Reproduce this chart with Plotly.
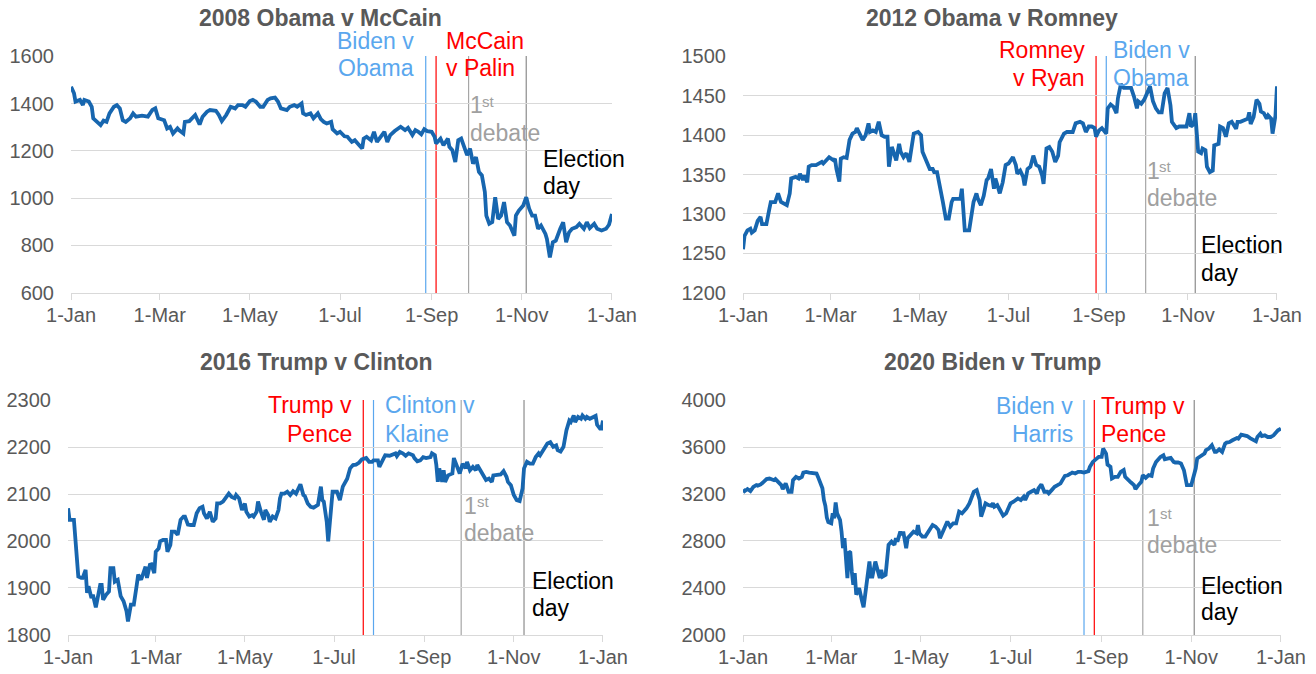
import plotly.graph_objects as go

W, H = 1316, 674
FONT = "Liberation Sans, Arial, sans-serif"

# ------------------------------------------------------------------ data
# S&P 500 level (dates as MM-DD within each year, last point = 1 Jan of next year)
md_2008 = ["01-01","01-03","01-04","01-07","01-09","01-10","01-13","01-15","01-16","01-19","01-21","01-23","01-25","01-27","01-30",
           "02-01","02-03","02-05","02-07","02-10","02-12","02-14","02-18","02-22","02-25","02-27","02-29",
           "03-04","03-06","03-08","03-10","03-13","03-14","03-17","03-18","03-21","03-23","03-25","03-28","03-30",
           "04-02","04-04","04-08","04-10","04-12","04-15","04-18","04-21","04-23","04-26","04-28",
           "05-01","05-03","05-05","05-08","05-10","05-13","05-15","05-18","05-20","05-22","05-26","05-28","05-31",
           "06-02","06-05","06-06","06-08","06-11","06-13","06-16","06-18","06-20","06-22","06-25","06-26","06-29",
           "07-01","07-04","07-06","07-09","07-11","07-14","07-16","07-17","07-19","07-22","07-24","07-26","07-29","07-31",
           "08-02","08-04","08-07","08-09","08-11","08-14","08-16","08-19","08-21","08-23","08-25","08-27","08-29",
           "09-01","09-03","09-04","09-07","09-09","09-12","09-13","09-15","09-17","09-19","09-21","09-24","09-25","09-27","09-29",
           "10-01","10-03","10-05","10-07","10-08","10-10","10-12","10-14","10-16","10-18","10-20","10-22","10-24","10-25","10-27","10-28","10-30",
           "11-02","11-04","11-06","11-08","11-10","11-12","11-14","11-17","11-18","11-20","11-22","11-24","11-27","11-29",
           "12-01","12-03","12-05","12-08","12-10","12-13","12-15","12-17","12-20","12-22","12-25","12-28","12-30"]
sp_2008 = [1472,1444,1409,1416,1394,1416,1409,1387,1338,1323,1309,1328,1323,1359,1387,
           1394,1380,1330,1323,1338,1359,1345,1349,1345,1373,1380,1338,
           1330,1295,1302,1274,1295,1288,1274,1323,1326,1338,1352,1312,1345,
           1366,1373,1370,1352,1326,1352,1387,1380,1394,1394,1387,
           1411,1416,1409,1387,1387,1416,1423,1426,1409,1380,1373,1387,1394,
           1387,1401,1359,1352,1359,1338,1359,1335,1323,1316,1323,1292,1274,
           1281,1262,1260,1238,1245,1224,1210,1252,1260,1245,1281,1238,1267,1281,
           1238,1267,1284,1295,1302,1288,1298,1267,1288,1281,1270,1292,1284,
           1281,1260,1231,1252,1224,1252,1217,1203,1153,1245,1252,1196,1182,1210,1146,
           1174,1111,1096,1026,926,891,898,1004,912,926,983,898,884,870,841,926,947,
           969,1004,955,926,926,870,884,848,827,749,813,820,870,898,
           813,855,870,877,891,870,898,873,891,870,863,870,887,
           933]

md_2012 = ["01-01","01-02","01-04","01-06","01-07","01-09","01-11","01-13","01-14","01-17","01-19","01-20","01-23","01-25","01-27","01-29","01-31",
           "02-02","02-03","02-06","02-08","02-09","02-11","02-12","02-14","02-15","02-17","02-20","02-22","02-24","02-25","02-27","02-29",
           "03-03","03-04","03-05","03-07","03-08","03-10","03-12","03-14","03-16","03-18","03-19","03-21","03-23","03-25","03-27","03-28","03-30",
           "04-01","04-03","04-05","04-07","04-09","04-10","04-12","04-13","04-15","04-17","04-18","04-20","04-22","04-24","04-26","04-27","04-30",
           "05-02","05-03","05-06","05-08","05-10","05-11","05-13","05-15","05-16","05-17","05-19","05-21","05-23","05-24","05-27","05-29","05-30","05-31",
           "06-01","06-04","06-05","06-07","06-09","06-10","06-12","06-14","06-16","06-17","06-19","06-21","06-22","06-24","06-25","06-27","06-29",
           "07-01","07-04","07-06","07-07","07-09","07-11","07-12","07-14","07-16","07-18","07-20","07-22","07-24","07-25","07-27","07-29","07-31",
           "08-02","08-04","08-05","08-08","08-10","08-12","08-14","08-16","08-19","08-21","08-23","08-25","08-27","08-29","08-30",
           "09-01","09-03","09-06","09-07","09-09","09-11","09-13","09-14","09-16","09-18","09-21","09-23","09-25","09-27","09-28","09-30",
           "10-02","10-04","10-06","10-08","10-10","10-12","10-14","10-16","10-18","10-20","10-21","10-24","10-26","10-29","10-31",
           "11-02","11-03","11-05","11-06","11-08","11-10","11-11","11-13","11-14","11-16","11-18","11-19","11-22","11-23","11-25","11-27","11-29",
           "12-01","12-04","12-05","12-07","12-09","12-12","12-13","12-14","12-16","12-18","12-20","12-21","12-23","12-25","12-26","12-28","12-29","12-30","12-31"]
sp_2012 = [1255,1272,1279,1281,1276,1279,1291,1296,1287,1287,1306,1315,1315,1326,1315,1313,1311,
           1326,1345,1347,1345,1351,1343,1349,1340,1360,1362,1362,1364,1366,1364,1368,1372,
           1368,1370,1357,1341,1370,1372,1371,1394,1402,1404,1409,1400,1394,1400,1415,1404,1406,
           1404,1417,1400,1398,1398,1360,1385,1379,1368,1389,1379,1372,1377,1366,1396,1402,1404,
           1400,1379,1366,1357,1357,1353,1353,1336,1328,1315,1294,1294,1315,1319,1319,1319,1332,1298,
           1279,1279,1289,1315,1326,1319,1311,1323,1343,1345,1357,1332,1345,1334,1326,1340,1362,
           1364,1372,1362,1351,1355,1347,1336,1357,1360,1374,1362,1360,1349,1338,1383,1385,1379,
           1366,1374,1391,1402,1404,1404,1404,1415,1417,1415,1404,1411,1411,1409,1398,
           1406,1409,1402,1434,1439,1436,1428,1447,1465,1460,1460,1460,1449,1434,1443,1440,
           1445,1455,1462,1443,1434,1429,1429,1453,1460,1438,1417,1409,1411,1411,1411,
           1428,1411,1414,1428,1379,1377,1383,1381,1360,1353,1355,1387,1389,1411,1409,1398,1415,
           1417,1408,1417,1417,1419,1421,1429,1414,1423,1445,1440,1430,1428,1421,1425,1421,1402,1413,1425,
           1462]

md_2016 = ["01-01","01-02","01-05","01-06","01-08","01-10","01-11","01-13","01-14","01-15","01-17","01-18","01-20","01-21","01-23","01-24","01-25","01-27","01-29","01-30",
           "02-01","02-02","02-04","02-06","02-08","02-10","02-11","02-13","02-15","02-17","02-18","02-20","02-21","02-23","02-24","02-26","02-27","02-29",
           "03-01","03-03","03-04","03-06","03-08","03-09","03-11","03-12","03-14","03-16","03-18","03-20","03-21","03-23","03-25","03-27","03-29","03-31",
           "04-02","04-03","04-05","04-07","04-09","04-11","04-12","04-14","04-16","04-18","04-20","04-22","04-24","04-25","04-27","04-29",
           "05-01","05-02","05-04","05-06","05-07","05-09","05-10","05-12","05-14","05-15","05-17","05-18","05-20","05-22","05-24","05-25","05-26","05-28","05-30",
           "06-01","06-03","06-05","06-06","06-08","06-10","06-11","06-13","06-15","06-17","06-18","06-20","06-22","06-23","06-24","06-26","06-27","06-28","06-30",
           "07-03","07-05","07-07","07-09","07-10","07-12","07-14","07-16","07-18","07-20","07-23","07-25","07-27","07-28","07-31",
           "08-01","08-03","08-05","08-08","08-09","08-12","08-13","08-15","08-17","08-19","08-21","08-24","08-25","08-27","08-29","08-31",
           "09-02","09-05","09-06","09-08","09-09","09-10","09-11","09-13","09-14","09-15","09-17","09-20","09-21","09-23","09-25","09-27","09-29","09-30",
           "10-02","10-04","10-06","10-07","10-09","10-11","10-13","10-15","10-17","10-18","10-21","10-23","10-25","10-27","10-28","10-30",
           "11-01","11-03","11-05","11-07","11-08","11-10","11-12","11-14","11-16","11-18","11-19","11-21","11-23","11-24","11-26","11-28","11-30",
           "12-01","12-03","12-05","12-07","12-09","12-10","12-12","12-13","12-15","12-17","12-18","12-20","12-21","12-23","12-25","12-27","12-28","12-30","12-31"]
sp_2016 = [2070,2045,2045,2011,1924,1921,1921,1938,1889,1903,1878,1885,1858,1874,1906,1906,1874,1885,1892,1942,
           1942,1913,1917,1882,1871,1850,1828,1864,1864,1906,1928,1917,1928,1945,1921,1949,1950,1931,
           1977,1984,1999,2002,2002,1977,1991,2020,2020,2013,2045,2052,2052,2035,2034,2034,2059,2070,
           2073,2059,2048,2062,2041,2048,2080,2080,2084,2091,2101,2094,2091,2098,2091,2066,
           2080,2062,2052,2055,2052,2062,2084,2062,2045,2066,2055,2041,2052,2048,2066,2091,2101,2101,2105,
           2098,2106,2101,2108,2121,2098,2096,2080,2073,2071,2073,2077,2116,2087,2084,2041,1999,2034,2105,
           2105,2087,2116,2130,2133,2155,2162,2163,2167,2174,2177,2169,2169,2172,2172,
           2158,2169,2183,2182,2183,2187,2181,2190,2187,2182,2187,2183,2177,2170,2172,2179,
           2177,2179,2187,2183,2162,2126,2155,2126,2151,2126,2140,2144,2177,2158,2144,2165,2155,2169,
           2151,2158,2151,2162,2151,2140,2130,2133,2126,2140,2140,2142,2149,2137,2126,2119,
           2098,2087,2085,2112,2155,2169,2165,2165,2179,2187,2183,2194,2204,2208,2211,2201,2204,
           2194,2191,2201,2236,2257,2254,2268,2254,2265,2261,2268,2261,2265,2261,2265,2267,2248,2240,2240,
           2257]

md_2020 = ["01-01","01-02","01-04","01-06","01-08","01-10","01-11","01-13","01-15","01-17","01-19","01-22","01-23","01-25","01-27","01-28","01-30",
           "02-01","02-03","02-04","02-06","02-08","02-10","02-11","02-13","02-15","02-17","02-20","02-21","02-24","02-25","02-26","02-27","02-28",
           "03-01","03-02","03-03","03-04","03-05","03-07","03-08","03-09","03-10","03-12","03-13","03-14","03-15","03-16","03-17","03-18","03-20","03-21","03-22","03-23","03-25","03-26","03-27","03-28","03-29","03-31",
           "04-01","04-03","04-04","04-05","04-07","04-08","04-09","04-11","04-13","04-14","04-15","04-17","04-18","04-19","04-21","04-22","04-24","04-26","04-28","04-29","04-30",
           "05-02","05-04","05-06","05-07","05-09","05-11","05-13","05-14","05-16","05-18","05-19","05-21","05-23","05-25","05-27","05-29","05-30",
           "06-01","06-03","06-05","06-06","06-08","06-10","06-11","06-13","06-14","06-16","06-18","06-19","06-20","06-22","06-24","06-26","06-28","06-30",
           "07-01","07-03","07-06","07-08","07-10","07-11","07-13","07-15","07-17","07-19","07-20","07-22","07-24","07-26","07-27","07-29","07-31",
           "08-02","08-04","08-07","08-09","08-11","08-12","08-14","08-16","08-18","08-20","08-23","08-24","08-26","08-29","08-30",
           "09-01","09-02","09-04","09-05","09-07","09-08","09-10","09-12","09-14","09-16","09-17","09-19","09-21","09-23","09-24","09-26","09-28","09-29",
           "10-01","10-03","10-05","10-06","10-08","10-11","10-13","10-14","10-16","10-18","10-20","10-21","10-23","10-25","10-27","10-28","10-29",
           "11-01","11-02","11-04","11-05","11-08","11-10","11-11","11-13","11-15","11-17","11-18","11-20","11-22","11-24","11-25","11-27","11-29",
           "12-02","12-03","12-05","12-07","12-09","12-11","12-13","12-15","12-16","12-18","12-19","12-21","12-23","12-25","12-27","12-28","12-30"]
sp_2020 = [3240,3225,3243,3225,3262,3277,3271,3282,3305,3328,3333,3319,3328,3305,3277,3243,3291,
           3220,3220,3319,3347,3333,3347,3384,3390,3384,3384,3376,3347,3250,3150,3100,3000,2960,
           2950,3035,2993,3129,3035,2979,2880,2738,2823,2482,2709,2700,2539,2425,2525,2340,2397,2326,2283,2233,2425,2539,2624,2496,2496,2624,
           2582,2482,2553,2496,2510,2667,2766,2794,2766,2823,2794,2879,2851,2879,2738,2823,2851,2879,2865,2936,2865,
           2837,2837,2879,2893,2936,2922,2893,2823,2879,2936,2965,2922,2950,2950,3050,3035,3050,
           3078,3121,3206,3220,3234,3149,3007,3078,3121,3106,3100,3121,3092,3106,3064,3016,3035,3092,
           3121,3135,3163,3149,3177,3149,3206,3220,3234,3206,3248,3282,3220,3220,3206,3234,3262,
           3277,3291,3356,3361,3376,3384,3376,3390,3390,3384,3396,3433,3475,3504,3518,
           3518,3589,3546,3452,3433,3333,3347,3347,3390,3405,3347,3319,3299,3277,3243,3277,3305,3362,
           3339,3362,3356,3418,3475,3518,3532,3498,3504,3509,3475,3470,3470,3461,3404,3333,3277,
           3277,3319,3418,3504,3532,3546,3575,3589,3617,3560,3560,3583,3560,3631,3640,3645,3660,
           3679,3674,3708,3702,3696,3679,3660,3651,3688,3716,3696,3702,3688,3688,3702,3716,3745,
           3760]

years = [2008, 2012, 2016, 2020]
month_days = [md_2008, md_2012, md_2016, md_2020]
levels = [sp_2008, sp_2012, sp_2016, sp_2020]
titles = ["2008 Obama v McCain", "2012 Obama v Romney", "2016 Trump v Clinton", "2020 Biden v Trump"]

tick_md = ["01-01", "03-01", "05-01", "07-01", "09-01", "11-01"]
tick_text = ["1-Jan", "1-Mar", "1-May", "1-Jul", "1-Sep", "1-Nov", "1-Jan"]

# events: running-mate ticket acceptance, first debate, election day
event_md = [["08-28", "09-04", "09-26", "11-04"],
            ["08-30", "09-06", "10-03", "11-06"],
            ["07-21", "07-28", "09-26", "11-08"],
            ["08-20", "08-27", "09-29", "11-03"]]
event_text = [[("Biden v", "Obama"), ("McCain", "v Palin"), ("1", "debate"), ("Election", "day")],
              [("Romney", "v Ryan"), ("Biden v", "Obama"), ("1", "debate"), ("Election", "day")],
              [("Trump v", "Pence"), ("Clinton v", "Klaine"), ("1", "debate"), ("Election", "day")],
              [("Biden v", "Harris"), ("Trump v", "Pence"), ("1", "debate"), ("Election", "day")]]
event_kind = [["dem", "rep", "deb", "ele"],
              ["rep", "dem", "deb", "ele"],
              ["rep", "dem", "deb", "ele"],
              ["dem", "rep", "deb", "ele"]]
y_ranges = [(600, 1600, 200), (1200, 1500, 50), (1800, 2300, 100), (2000, 4000, 400)]

# ------------------------------------------------------------------ styling
LINE_BLUE = "#1766AF"
GRID = "#D9D9D9"
TXT = "#595959"
kind_color = {"dem": "#5AA7EE", "rep": "#FF0000", "deb": "#A6A6A6", "ele": "#8C8C8C"}
kind_text = {"dem": "#5AA7EE", "rep": "#FF0000", "deb": "#A0A0A0", "ele": "#000000"}

# pixel layout of each panel: plot box, title centre, label offsets (xshift, anchor, line1 y, line2 y)
panels = [
    dict(x0=71, x1=612, top=56, bot=293, tx=320, ty=18,
         lab=[(-12, "right", 41, 68.5), (10, "left", 41, 68.5), (1, "left", 105, 133), (17, "left", 158.5, 186)]),
    dict(x0=743, x1=1277, top=56, bot=293, tx=992, ty=18,
         lab=[(-11, "right", 50, 78), (7, "left", 50, 78), (1, "left", 170.5, 198), (6, "left", 245, 272.7)]),
    dict(x0=68, x1=603, top=400, bot=635, tx=316, ty=362.5,
         lab=[(-11, "right", 405, 434), (11, "left", 405, 434), (3, "left", 505.8, 533), (8, "left", 580.8, 608)]),
    dict(x0=743, x1=1281, top=400, bot=635, tx=992, ty=362.5,
         lab=[(-11, "right", 406, 434), (7, "left", 406, 434), (4, "left", 517.5, 544.7), (7, "left", 585.8, 612)]),
]

fig = go.Figure()
shapes, annotations = [], []

for i, (yr, mds, vals) in enumerate(zip(years, month_days, levels)):
    p = panels[i]
    sfx = "" if i == 0 else str(i + 1)
    xa, ya = "x" + sfx, "y" + sfx
    dates = [f"{yr}-{md}" for md in mds] + [f"{yr + 1}-01-01"]
    fig.add_trace(go.Scatter(x=dates, y=vals, mode="lines", xaxis=xa, yaxis=ya,
                             line=dict(color=LINE_BLUE, width=3.8), hoverinfo="skip", showlegend=False))
    lo, hi, dt = y_ranges[i]
    pad = (hi - lo) * 0.002
    fig.layout["xaxis" + sfx] = dict(
        type="date", domain=[p["x0"] / W, p["x1"] / W], anchor=ya, automargin=False,
        range=[f"{yr - 1}-12-31 23:00", f"{yr + 1}-01-01 01:00"],
        tickvals=[f"{yr}-{m}" for m in tick_md] + [f"{yr + 1}-01-01"], ticktext=tick_text,
        ticks="outside", ticklen=6, tickwidth=1.3, tickcolor=GRID,
        showline=True, linecolor=GRID, linewidth=1.3, showgrid=False, zeroline=False,
        tickfont=dict(family=FONT, size=20, color=TXT), ticklabelstandoff=-2, fixedrange=True)
    fig.layout["yaxis" + sfx] = dict(
        domain=[1 - p["bot"] / H, 1 - p["top"] / H], anchor=xa, automargin=False,
        range=[lo - pad, hi + pad], dtick=dt, tick0=lo,
        showgrid=True, gridcolor=GRID, gridwidth=1.3, zeroline=False, showline=False,
        ticks="", tickfont=dict(family=FONT, size=20, color=TXT), ticklabelstandoff=16, fixedrange=True)

    annotations.append(dict(xref="paper", yref="paper", x=p["tx"] / W, y=1 - p["ty"] / H,
                            xanchor="center", yanchor="middle", showarrow=False,
                            text=f"<b>{titles[i]}</b>", font=dict(family=FONT, size=23, color=TXT)))

    for j, md in enumerate(event_md[i]):
        d = f"{yr}-{md}"
        kind = event_kind[i][j]
        shapes.append(dict(type="line", xref=xa, yref=ya + " domain", x0=d, x1=d, y0=0, y1=1,
                           line=dict(color=kind_color[kind], width=1.2), layer="below"))
        xs, anc, y1, y2 = p["lab"][j]
        for txt, ypx in zip(event_text[i][j], (y1, y2)):
            annotations.append(dict(xref=xa, yref="paper", x=d, y=1 - ypx / H, xshift=xs,
                                    xanchor=anc, yanchor="middle", showarrow=False, text=txt,
                                    align=anc, borderpad=0, borderwidth=0,
                                    font=dict(family=FONT, size=23, color=kind_text[kind])))
        if kind == "deb":
            annotations.append(dict(xref=xa, yref="paper", x=d, y=1 - (y1 - 4) / H, xshift=xs + 12.8,
                                    xanchor="left", yanchor="middle", showarrow=False, text="st",
                                    borderpad=0, borderwidth=0,
                                    font=dict(family=FONT, size=15, color=kind_text[kind])))

fig.update_layout(width=W, height=H, margin=dict(l=0, r=0, t=0, b=0, autoexpand=False),
                  paper_bgcolor="white", plot_bgcolor="white",
                  shapes=shapes, annotations=annotations, showlegend=False)

fig.write_html("out.html", config={"displayModeBar": False},
               post_script="document.body.style.margin='0';document.body.style.overflow='hidden';")
